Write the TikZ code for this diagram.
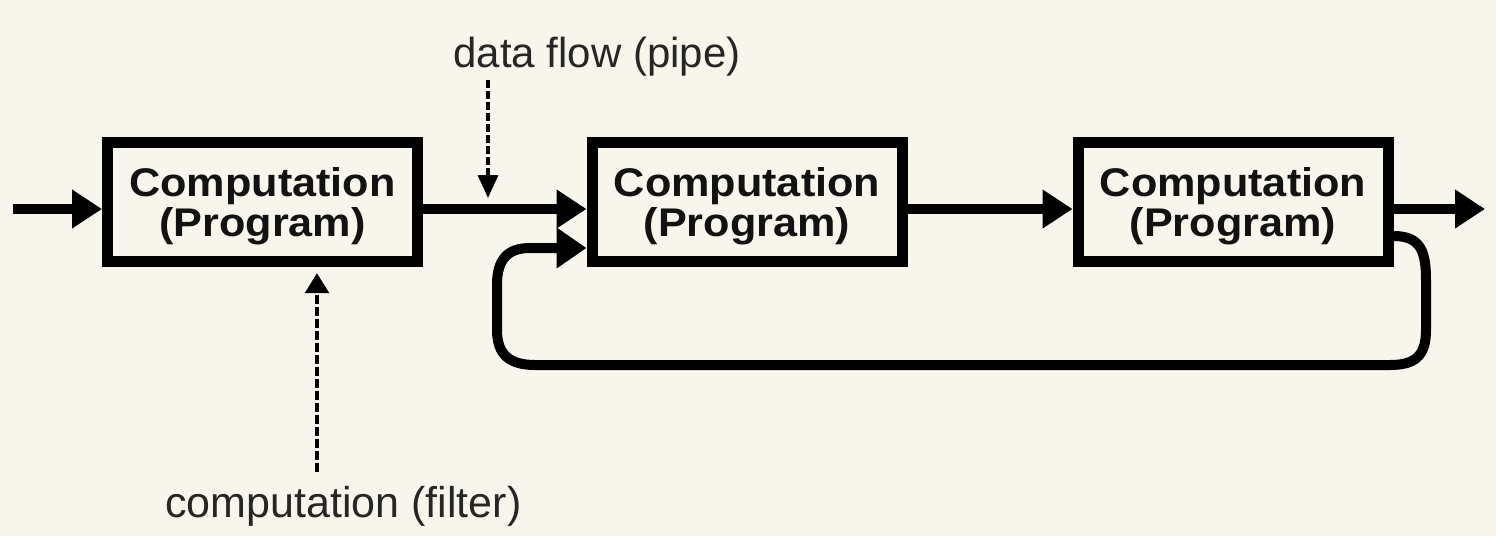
\documentclass[tikz,border=0pt]{standalone}
\usepackage{fontspec}
\setmainfont{Liberation Sans}
\newfontfamily\boxfont{Liberation Sans}[FakeStretch=1.08]
\usetikzlibrary{arrows.meta}
\definecolor{bg}{RGB}{248,246,236}
\definecolor{ink}{RGB}{18,18,18}
\definecolor{lbl}{RGB}{38,38,38}
\newcommand{\toplift}{\rule{0pt}{18.6pt}}
\begin{document}
\begin{tikzpicture}[x=0.5pt,y=-0.5pt,
  procbox/.style={draw=black, line width=5.5pt, minimum width=155pt, minimum height=59.5pt,
    inner sep=0pt, align=center, text=ink,
    font=\boxfont\bfseries\fontsize{20}{19.7}\selectfont},
  flow/.style={draw=black, line width=4.75pt, -{Triangle[length=15pt,width=18.5pt]}},
  feedback/.style={draw=black, line width=5pt, -{Triangle[length=15pt,width=19.5pt]}},
  lbltext/.style={inner sep=0pt, text=lbl, font=\fontsize{21}{24}\selectfont},
  pointer/.style={draw=black, line width=1.6pt, dash pattern=on 4pt off 1.5pt,
    -{Triangle[length=11.5pt,width=10pt]}},
  pointerb/.style={draw=black, line width=2.4pt, dash pattern=on 4.5pt off 1.5pt,
    -{Triangle[length=10pt,width=11.5pt]}}
]
\fill[bg] (0,0) rectangle (1496,536);
\useasboundingbox (0,0) rectangle (1496,536);

\node[procbox] (b1) at (262.5,202) {\toplift Computation\\(Program)};
\node[procbox] (b2) at (747,202) {\toplift Computation\\(Program)};
\node[procbox] (b3) at (1233,202) {\toplift Computation\\(Program)};

\coordinate (src) at (13,209);
\coordinate (sink) at (1485,209);
\draw[flow] (src) -- (src -| b1.west);
\draw[flow] (b1.east |- src) -- (b2.west |- src);
\draw[flow] (b2.east |- src) -- (b3.west |- src);
\draw[flow] (b3.east |- src) -- (sink);

\draw[feedback] ([yshift=-17pt]b3.east) .. controls (1421,236) and (1426,252) .. (1426,280)
  -- (1426,330) .. controls (1426,356) and (1415,365) .. (1390,365)
  -- (535,365) .. controls (510,365) and (497,355) .. (497,330)
  -- (497,285) .. controls (497,260) and (507,248) .. (530,248)
  -- ([yshift=-23pt]b2.west);

\node[lbltext, anchor=base west] (pipe) at (453,67) {data flow (pipe)};
\coordinate (pipeS) at (488,80);
\coordinate (pipeE) at (488,198);
\draw[pointer] (pipeS) -- (pipeE);

\node[lbltext, anchor=base west, font=\fontsize{21.5}{24}\selectfont] (filt) at (165,517) {computation (filter)};
\coordinate (filtS) at (317,472);
\coordinate (filtE) at (317,273);
\draw[pointerb] (filtS) -- (filtE);
\end{tikzpicture}
\end{document}
